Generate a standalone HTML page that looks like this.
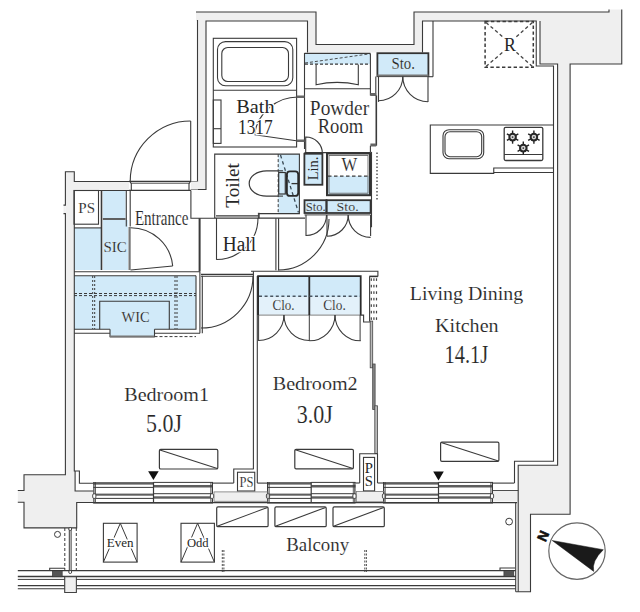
<!DOCTYPE html>
<html><head><meta charset="utf-8"><style>
html,body{margin:0;padding:0;background:#fff;width:640px;height:612px;overflow:hidden}
svg{display:block}
</style></head><body>
<svg width="640" height="612" viewBox="0 0 640 612" shape-rendering="geometricPrecision">
<polygon points="196,12 316,12 316,44.5 414,44.5 414,12 540,12 540,21 422.5,21 422.5,52.5 307.5,52.5 307.5,21 206,21 206,189.5 197.5,189.5 197.5,21 196,21" fill="#efefef" stroke="none" stroke-width="1.1" />
<polygon points="540,12 609,12 609,9.5 621.75,9.5 621.75,64 570.1,64 570.1,514.2 530.5,514.2 530.5,591.7 518.2,591.7 518.2,465.2 557.6,465.2 557.6,64 540,64" fill="#efefef" stroke="none" stroke-width="1.1" />
<polygon points="65.4,171.8 74.3,171.8 74.3,181.5 129,181.5 129,190.5 74.3,190.5 74.3,471 75.1,471 75.1,491 93.5,491 93.5,502.5 76.7,502.5 76.7,527.9 24,527.9 24,502.3 17.8,502.3 17.8,490.5 24,490.5 24,474.7 65.4,474.7" fill="#efefef" stroke="none" stroke-width="1.1" />
<polygon points="63.5,205.1 65.4,205.1 65.4,213.6 63.5,213.6" fill="#efefef" stroke="none" stroke-width="1.1" />
<rect x="214" y="491.9" width="54" height="9.4" fill="#efefef" stroke="none" stroke-width="1.1" />
<rect x="356.3" y="491.5" width="28" height="10.3" fill="#efefef" stroke="none" stroke-width="1.1" />
<rect x="493" y="490.5" width="25.2" height="11" fill="#efefef" stroke="none" stroke-width="1.1" />
<rect x="64.8" y="576.8" width="11.5" height="15.7" fill="#efefef" stroke="#3a3a3a" stroke-width="0.9" />
<rect x="102.8" y="190.5" width="22.8" height="28" fill="#d1eaf9" stroke="none" stroke-width="1.1" />
<rect x="102.8" y="220" width="25.4" height="50" fill="#d1eaf9" stroke="none" stroke-width="1.1" />
<rect x="74" y="228" width="27.5" height="42" fill="#d1eaf9" stroke="none" stroke-width="1.1" />
<rect x="74" y="276" width="122" height="53" fill="#d1eaf9" stroke="none" stroke-width="1.1" />
<rect x="110" y="329" width="44.5" height="7" fill="#d1eaf9" stroke="none" stroke-width="1.1" />
<rect x="377.4" y="53.2" width="51" height="23" fill="#d1eaf9" stroke="none" stroke-width="1.1" />
<rect x="305" y="53.7" width="65" height="10.5" fill="#d1eaf9" stroke="none" stroke-width="1.1" />
<rect x="304.4" y="153.75" width="18" height="31" fill="#d1eaf9" stroke="none" stroke-width="1.1" />
<rect x="327" y="176" width="43" height="19" fill="#d1eaf9" stroke="none" stroke-width="1.1" />
<rect x="278.2" y="154.1" width="21.6" height="59" fill="#d1eaf9" stroke="none" stroke-width="1.1" />
<rect x="304.5" y="200.2" width="66" height="13" fill="#d1eaf9" stroke="none" stroke-width="1.1" />
<rect x="258.1" y="276.1" width="102.6" height="39" fill="#d1eaf9" stroke="none" stroke-width="1.1" />
<polyline points="196,12 316,12 316,44.5 414,44.5 414,12 609,12 609,9.5" stroke="#3a3a3a" stroke-width="1.1" fill="none" />
<polyline points="621.75,9.5 621.75,64 570.1,64 570.1,514.2 530.5,514.2 530.5,591.7 515.7,591.7" stroke="#3a3a3a" stroke-width="1.1" fill="none" />
<polyline points="307.5,52.5 307.5,21 206,21 206,189.5 191,189.5" stroke="#3a3a3a" stroke-width="1.1" fill="none" />
<polyline points="422.5,52.5 422.5,21 536.25,21 536.25,66 553.5,66 553.5,461.2 514.5,461.2 514.5,483.1" stroke="#3a3a3a" stroke-width="1.1" fill="none" />
<polyline points="540,21 540,64 557.6,64 557.6,465.2 518.2,465.2 518.2,591.7" stroke="#3a3a3a" stroke-width="1.1" fill="none" />
<polyline points="197.5,20 197.5,181.5 74.3,181.5 74.3,171.8 65.4,171.8 65.4,205.1 63.5,205.1" stroke="#3a3a3a" stroke-width="1.1" fill="none" />
<polyline points="63.5,213.6 65.4,213.6 65.4,474.7 24,474.7 24,490.5 17.8,490.5" stroke="#3a3a3a" stroke-width="1.1" fill="none" />
<polyline points="17.8,502.3 24,502.3 24,527.9 76.7,527.9 76.7,502.5 93.5,502.5" stroke="#3a3a3a" stroke-width="1.1" fill="none" />
<polyline points="129,190.5 74.3,190.5 74.3,471 79.4,471 79.4,483.3 93.5,483.3" stroke="#3a3a3a" stroke-width="1.1" fill="none" />
<polyline points="75.1,471 75.1,491 93.5,491" stroke="#3a3a3a" stroke-width="1.1" fill="none" />
<line x1="515.7" y1="502.7" x2="515.7" y2="591.7" stroke="#3a3a3a" stroke-width="1.1" />
<rect x="191" y="181.5" width="7" height="8" fill="#efefef" stroke="none" stroke-width="1.1" />
<line x1="129" y1="181.2" x2="191" y2="181.2" stroke="#3a3a3a" stroke-width="1.1" />
<line x1="131" y1="183.2" x2="189.5" y2="183.2" stroke="#3a3a3a" stroke-width="0.9" />
<line x1="129" y1="190.4" x2="191" y2="190.4" stroke="#3a3a3a" stroke-width="1.1" />
<path d="M129.6,181.2 L131.3,183.6 L131.3,190.4" stroke="#3a3a3a" stroke-width="1.1" fill="none" />
<path d="M190.6,181.2 L189,183.6 L189,190.4" stroke="#3a3a3a" stroke-width="1.1" fill="none" />
<line x1="190.7" y1="121" x2="190.7" y2="181.5" stroke="#3a3a3a" stroke-width="1.1" />
<path d="M130.20,181.50 A60.5,60.5 0 0 1 190.70,121.00" stroke="#3a3a3a" stroke-width="1.1" fill="none" />
<polyline points="190.9,190.5 190.9,218.2 214.9,218.2" stroke="#3a3a3a" stroke-width="1.1" fill="none" />
<line x1="199.6" y1="218.2" x2="199.6" y2="271.5" stroke="#3a3a3a" stroke-width="2" />
<rect x="213.3" y="38.3" width="83.3" height="108.7" fill="none" stroke="#3a3a3a" stroke-width="1.1" />
<rect x="217.5" y="41.6" width="75.3" height="44.1" rx="8" fill="none" stroke="#3a3a3a" stroke-width="1.1"/>
<rect x="221.8" y="47.5" width="66.7" height="34" rx="6" fill="none" stroke="#3a3a3a" stroke-width="1.1"/>
<line x1="213.3" y1="90.2" x2="296.6" y2="90.2" stroke="#3a3a3a" stroke-width="1.1" />
<rect x="213.3" y="100" width="7.7" height="43.4" fill="none" stroke="#3a3a3a" stroke-width="1.1" />
<line x1="213.3" y1="128.7" x2="221" y2="128.7" stroke="#3a3a3a" stroke-width="1.1" />
<line x1="298" y1="141" x2="254.6" y2="134.8" stroke="#3a3a3a" stroke-width="1.1" />
<path d="M254.54,134.12 A44,44 0 0 1 298.00,97.00" stroke="#3a3a3a" stroke-width="1.1" fill="none" />
<line x1="304.5" y1="53" x2="304.5" y2="149" stroke="#3a3a3a" stroke-width="1.1" />
<rect x="296.6" y="95.5" width="7.9" height="2.5" fill="#666" stroke="none" stroke-width="1.1" />
<rect x="296.6" y="139.5" width="7.9" height="2.5" fill="#666" stroke="none" stroke-width="1.1" />
<line x1="304.5" y1="152.6" x2="370.4" y2="152.6" stroke="#3a3a3a" stroke-width="1.1" />
<line x1="305" y1="64.2" x2="370" y2="64.2" stroke="#3a3a3a" stroke-width="1.2" stroke-dasharray="3,2"/>
<line x1="305" y1="63" x2="370" y2="53.8" stroke="#3a3a3a" stroke-width="0.9" stroke-dasharray="3,2"/>
<path d="M316.1,64.5 L316.1,84.7 Q337,80 358.3,84.7 L358.3,64.5" stroke="#3a3a3a" stroke-width="1.1" fill="none" />
<line x1="304.5" y1="88.8" x2="370.4" y2="88.8" stroke="#3a3a3a" stroke-width="1.1" />
<line x1="304.5" y1="53.4" x2="370.4" y2="53.4" stroke="#3a3a3a" stroke-width="1.1" />
<line x1="370.4" y1="53.4" x2="370.4" y2="95.4" stroke="#3a3a3a" stroke-width="1.1" />
<polyline points="375.8,76.6 375.8,95.4" stroke="#3a3a3a" stroke-width="1.1" fill="none" />
<rect x="370.4" y="93" width="5.8" height="3" fill="#666" stroke="none" stroke-width="1.1" />
<line x1="376.3" y1="95.4" x2="376.3" y2="145.7" stroke="#3a3a3a" stroke-width="1.6" />
<rect x="370.4" y="143.5" width="5.8" height="3" fill="#666" stroke="none" stroke-width="1.1" />
<line x1="370.4" y1="145.7" x2="370.4" y2="152.6" stroke="#3a3a3a" stroke-width="1.1" />
<rect x="377.4" y="53.2" width="51" height="23" fill="none" stroke="#333" stroke-width="1.8" />
<line x1="377.4" y1="75.5" x2="428.5" y2="75.5" stroke="#777" stroke-width="2" />
<line x1="378.5" y1="76.5" x2="378.5" y2="101.9" stroke="#3a3a3a" stroke-width="1.1" />
<path d="M402.80,76.50 A24.3,24.3 0 0 1 378.50,100.80" stroke="#3a3a3a" stroke-width="1.1" fill="none" />
<line x1="428" y1="76.5" x2="428" y2="101.9" stroke="#3a3a3a" stroke-width="1.1" />
<path d="M428.00,101.70 A25.2,25.2 0 0 1 402.80,76.50" stroke="#3a3a3a" stroke-width="1.1" fill="none" />
<line x1="433" y1="21" x2="433" y2="76.7" stroke="#3a3a3a" stroke-width="1.1" />
<line x1="433" y1="76.7" x2="428.5" y2="76.7" stroke="#3a3a3a" stroke-width="1.1" />
<path d="M305.7,153.5 L305.7,137 A16.5,16.5 0 0 1 322.4,153.5" stroke="#3a3a3a" stroke-width="1.1" fill="none" />
<rect x="304.4" y="153.75" width="18" height="31" fill="none" stroke="#333" stroke-width="1.8" />
<rect x="327" y="153.5" width="43" height="41.7" fill="none" stroke="#333" stroke-width="2" />
<rect x="329" y="155.5" width="39" height="37.7" fill="none" stroke="#555" stroke-width="0.8" />
<line x1="328" y1="176.2" x2="369" y2="176.2" stroke="#3a3a3a" stroke-width="1.3" stroke-dasharray="3.5,2.5"/>
<line x1="377" y1="152.5" x2="377" y2="200" stroke="#3a3a3a" stroke-width="1.3" stroke-dasharray="1.5,2"/>
<polyline points="258.75,213.6 299.4,213.6 299.4,154.1 214.7,154.1 214.7,218.2" stroke="#3a3a3a" stroke-width="1.1" fill="none" />
<line x1="278.2" y1="154.1" x2="278.2" y2="213.1" stroke="#3a3a3a" stroke-width="1" stroke-dasharray="3,2"/>
<line x1="280.5" y1="155" x2="298.5" y2="212.5" stroke="#3a4a55" stroke-width="1.3" stroke-dasharray="3.5,3"/>
<path d="M279,170.8 L266.5,170.8 A17.3,12.65 0 0 0 266.5,196.1 L279,196.1" stroke="#3a3a3a" stroke-width="1.2" fill="none" />
<line x1="279" y1="170.8" x2="283" y2="170.8" stroke="#3a3a3a" stroke-width="1.1" />
<line x1="279" y1="196.1" x2="283" y2="196.1" stroke="#3a3a3a" stroke-width="1.1" />
<rect x="278.7" y="172.5" width="6.6" height="21.5" fill="none" stroke="#333" stroke-width="1.2" />
<rect x="286.9" y="171.4" width="11.3" height="24.5" rx="3" fill="none" stroke="#2a2a2a" stroke-width="1.8"/>
<line x1="291.5" y1="183.6" x2="298" y2="183.6" stroke="#333" stroke-width="1.3" />
<line x1="216" y1="215.9" x2="258.75" y2="215.9" stroke="#3a3a3a" stroke-width="1.1" />
<rect x="257.9" y="212.8" width="1.8" height="5.6" fill="#444" stroke="none" stroke-width="1.1" />
<line x1="216.5" y1="218" x2="216.5" y2="259.8" stroke="#3a3a3a" stroke-width="1.1" />
<path d="M258.00,218.00 A41.5,41.5 0 0 1 216.50,259.50" stroke="#3a3a3a" stroke-width="1.1" fill="none" />
<rect x="304.5" y="200.2" width="22" height="12.8" fill="none" stroke="#333" stroke-width="1.8" />
<rect x="326.5" y="200.2" width="44.1" height="12.8" fill="none" stroke="#333" stroke-width="1.8" />
<line x1="304.5" y1="214.9" x2="370.6" y2="214.9" stroke="#666" stroke-width="1.2" />
<line x1="306" y1="215" x2="306" y2="235.9" stroke="#3a3a3a" stroke-width="1.1" />
<path d="M326.50,215.00 A20.5,20.5 0 0 1 306.00,235.50" stroke="#3a3a3a" stroke-width="1.1" fill="none" />
<line x1="327" y1="215" x2="327" y2="236" stroke="#3a3a3a" stroke-width="1.1" />
<path d="M348.20,215.00 A21.2,21.2 0 0 1 327.00,236.20" stroke="#3a3a3a" stroke-width="1.1" fill="none" />
<line x1="370.6" y1="215" x2="370.6" y2="236" stroke="#3a3a3a" stroke-width="1.1" />
<path d="M370.60,237.40 A22.4,22.4 0 0 1 348.20,215.00" stroke="#3a3a3a" stroke-width="1.1" fill="none" />
<line x1="371.5" y1="151.9" x2="371.5" y2="227" stroke="#3a3a3a" stroke-width="1.1" />
<line x1="370.6" y1="227" x2="371.5" y2="227" stroke="#3a3a3a" stroke-width="1.1" />
<line x1="275.9" y1="218.2" x2="275.9" y2="270.3" stroke="#3a3a3a" stroke-width="1.1" />
<line x1="278.6" y1="218.2" x2="278.6" y2="270.3" stroke="#3a3a3a" stroke-width="1.1" />
<line x1="214.9" y1="218.2" x2="305" y2="218.2" stroke="#3a3a3a" stroke-width="1.3" />
<path d="M329.00,219.00 A51,51 0 0 1 278.00,270.00" stroke="#3a3a3a" stroke-width="1.1" fill="none" />
<rect x="74" y="190.5" width="24.5" height="33.7" fill="none" stroke="#3a3a3a" stroke-width="1.1" />
<line x1="74" y1="227.9" x2="101.5" y2="227.9" stroke="#3a3a3a" stroke-width="1.1" />
<line x1="101.5" y1="190.5" x2="101.5" y2="270" stroke="#3a3a3a" stroke-width="1.6" />
<line x1="102.8" y1="219" x2="125.6" y2="219" stroke="#3a3a3a" stroke-width="1.6" />
<line x1="126.3" y1="190.5" x2="126.3" y2="226.6" stroke="#3a3a3a" stroke-width="1.1" />
<line x1="130.2" y1="190.5" x2="130.2" y2="226.6" stroke="#3a3a3a" stroke-width="1.1" />
<line x1="129.6" y1="227" x2="129.6" y2="270" stroke="#777" stroke-width="2.2" />
<path d="M130.60,227.70 A42.3,42.3 0 0 1 172.71,265.95" stroke="#3a3a3a" stroke-width="1.1" fill="none" />
<line x1="130.6" y1="270" x2="172.7" y2="266" stroke="#3a3a3a" stroke-width="1.1" />
<line x1="74" y1="271.8" x2="200" y2="271.8" stroke="#3a3a3a" stroke-width="1.1" />
<line x1="74" y1="275.7" x2="196" y2="275.7" stroke="#3a3a3a" stroke-width="1.1" />
<polyline points="196,275.7 196,329.3 154.5,329.3" stroke="#3a3a3a" stroke-width="1.1" fill="none" />
<polyline points="110,329.3 74,329.3" stroke="#3a3a3a" stroke-width="1.1" fill="none" />
<line x1="74" y1="333.2" x2="110" y2="333.2" stroke="#3a3a3a" stroke-width="1.1" />
<line x1="154.5" y1="333.2" x2="200" y2="333.2" stroke="#3a3a3a" stroke-width="1.1" />
<line x1="199.9" y1="271.8" x2="199.9" y2="333.2" stroke="#3a3a3a" stroke-width="1.1" />
<line x1="202.3" y1="275.7" x2="202.3" y2="333.2" stroke="#3a3a3a" stroke-width="1.1" />
<polyline points="99.7,329.3 99.7,301.3 169.3,301.3 169.3,329.3" stroke="#3a3a3a" stroke-width="1.1" fill="none" />
<path d="M110,329.3 L110,336.6 L154.5,336.6 L154.5,329.3" stroke="#3a3a3a" stroke-width="1.1" fill="none" />
<line x1="110" y1="336.6" x2="154.5" y2="336.6" stroke="#777" stroke-width="2" />
<line x1="92.7" y1="276" x2="92.7" y2="329" stroke="#3a3a3a" stroke-width="1" stroke-dasharray="2,2"/>
<line x1="94.7" y1="276" x2="94.7" y2="329" stroke="#3a3a3a" stroke-width="1" stroke-dasharray="2,2"/>
<line x1="175" y1="276" x2="175" y2="329" stroke="#3a3a3a" stroke-width="1" stroke-dasharray="2,2"/>
<line x1="177" y1="276" x2="177" y2="329" stroke="#3a3a3a" stroke-width="1" stroke-dasharray="2,2"/>
<line x1="74" y1="293.5" x2="196" y2="293.5" stroke="#3a3a3a" stroke-width="1" stroke-dasharray="3,2"/>
<line x1="74" y1="295.6" x2="196" y2="295.6" stroke="#3a3a3a" stroke-width="1" stroke-dasharray="3,2"/>
<line x1="154.5" y1="336.6" x2="196" y2="336.6" stroke="#3a3a3a" stroke-width="1" stroke-dasharray="3,2"/>
<path d="M253.00,276.00 A52,52 0 0 1 201.00,328.00" stroke="#3a3a3a" stroke-width="1.1" fill="none" />
<line x1="201" y1="274.4" x2="253" y2="274.4" stroke="#3a3a3a" stroke-width="1.1" />
<line x1="201" y1="276.3" x2="253" y2="276.3" stroke="#3a3a3a" stroke-width="1.1" />
<polyline points="251,271.3 377.9,271.3 377.9,276.4" stroke="#3a3a3a" stroke-width="1.1" fill="none" />
<line x1="253.4" y1="271.2" x2="253.4" y2="469" stroke="#3a3a3a" stroke-width="1.1" />
<line x1="257.3" y1="276" x2="257.3" y2="483.1" stroke="#3a3a3a" stroke-width="1.1" />
<rect x="258.1" y="297" width="102.6" height="18" fill="#e3f1fa" stroke="none" stroke-width="1.1" />
<line x1="258.1" y1="315.1" x2="360.7" y2="315.1" stroke="#999" stroke-width="1.4" />
<polyline points="258.1,315.1 258.1,276.1 360.7,276.1 360.7,315.1" stroke="#2a2a2a" stroke-width="1.8" fill="none" />
<line x1="309.3" y1="276.1" x2="309.3" y2="315.1" stroke="#2a2a2a" stroke-width="1.8" />
<line x1="258.6" y1="315.1" x2="258.6" y2="341" stroke="#3a3a3a" stroke-width="1.0" />
<line x1="309.3" y1="315.1" x2="309.3" y2="341" stroke="#3a3a3a" stroke-width="1.0" />
<line x1="360.1" y1="315.1" x2="360.1" y2="341" stroke="#3a3a3a" stroke-width="1.0" />
<line x1="259" y1="296.3" x2="360" y2="296.3" stroke="#4a5560" stroke-width="1.6" stroke-dasharray="3,2.6"/>
<path d="M283.95,315.10 A25.349999999999994,25.349999999999994 0 0 1 258.60,340.45" stroke="#3a3a3a" stroke-width="1.1" fill="none" />
<path d="M309.30,340.45 A25.349999999999994,25.349999999999994 0 0 1 283.95,315.10" stroke="#3a3a3a" stroke-width="1.1" fill="none" />
<path d="M335.00,315.10 A25.69999999999999,25.69999999999999 0 0 1 309.30,340.80" stroke="#3a3a3a" stroke-width="1.1" fill="none" />
<path d="M360.70,340.80 A25.69999999999999,25.69999999999999 0 0 1 335.00,315.10" stroke="#3a3a3a" stroke-width="1.1" fill="none" />
<line x1="369.3" y1="276.4" x2="377.9" y2="276.4" stroke="#333" stroke-width="1.6" />
<line x1="369.6" y1="276.4" x2="369.6" y2="321.6" stroke="#3a3a3a" stroke-width="1.1" />
<rect x="370.7" y="278.3" width="1.2" height="2.6" fill="#444" stroke="none" stroke-width="1.1" />
<rect x="370.7" y="284.8" width="1.2" height="2.6" fill="#444" stroke="none" stroke-width="1.1" />
<rect x="370.7" y="291.3" width="1.2" height="2.6" fill="#444" stroke="none" stroke-width="1.1" />
<rect x="370.7" y="297.8" width="1.2" height="2.6" fill="#444" stroke="none" stroke-width="1.1" />
<rect x="370.7" y="304.3" width="1.2" height="2.6" fill="#444" stroke="none" stroke-width="1.1" />
<rect x="370.7" y="310.8" width="1.2" height="2.6" fill="#444" stroke="none" stroke-width="1.1" />
<rect x="370.7" y="317.3" width="1.2" height="2.6" fill="#444" stroke="none" stroke-width="1.1" />
<rect x="373.29999999999995" y="278.3" width="1.2" height="2.6" fill="#444" stroke="none" stroke-width="1.1" />
<rect x="373.29999999999995" y="284.8" width="1.2" height="2.6" fill="#444" stroke="none" stroke-width="1.1" />
<rect x="373.29999999999995" y="291.3" width="1.2" height="2.6" fill="#444" stroke="none" stroke-width="1.1" />
<rect x="373.29999999999995" y="297.8" width="1.2" height="2.6" fill="#444" stroke="none" stroke-width="1.1" />
<rect x="373.29999999999995" y="304.3" width="1.2" height="2.6" fill="#444" stroke="none" stroke-width="1.1" />
<rect x="373.29999999999995" y="310.8" width="1.2" height="2.6" fill="#444" stroke="none" stroke-width="1.1" />
<rect x="373.29999999999995" y="317.3" width="1.2" height="2.6" fill="#444" stroke="none" stroke-width="1.1" />
<rect x="375.9" y="278.3" width="1.2" height="2.6" fill="#444" stroke="none" stroke-width="1.1" />
<rect x="375.9" y="284.8" width="1.2" height="2.6" fill="#444" stroke="none" stroke-width="1.1" />
<rect x="375.9" y="291.3" width="1.2" height="2.6" fill="#444" stroke="none" stroke-width="1.1" />
<rect x="375.9" y="297.8" width="1.2" height="2.6" fill="#444" stroke="none" stroke-width="1.1" />
<rect x="375.9" y="304.3" width="1.2" height="2.6" fill="#444" stroke="none" stroke-width="1.1" />
<rect x="375.9" y="310.8" width="1.2" height="2.6" fill="#444" stroke="none" stroke-width="1.1" />
<rect x="375.9" y="317.3" width="1.2" height="2.6" fill="#444" stroke="none" stroke-width="1.1" />
<polyline points="360.1,315.1 363.6,315.1 363.6,322 370.2,322" stroke="#3a3a3a" stroke-width="1.1" fill="none" />
<rect x="370.2" y="321.1" width="2.5" height="46.7" fill="#bbb" stroke="#444" stroke-width="0.8" />
<rect x="372.7" y="364" width="2.4" height="45.5" fill="#888" stroke="#444" stroke-width="0.8" />
<rect x="374.8" y="405.8" width="2.6" height="47.8" fill="#bbb" stroke="#444" stroke-width="0.8" />
<polyline points="359.7,483 359.7,453.7 377.5,453.7 377.5,483" stroke="#3a3a3a" stroke-width="1.1" fill="none" />
<rect x="363.5" y="457.4" width="11.1" height="33.5" fill="none" stroke="#3a3a3a" stroke-width="1.1" />
<polyline points="233.75,483.1 233.75,469 253.75,469" stroke="#3a3a3a" stroke-width="1.1" fill="none" />
<rect x="237.5" y="472.25" width="17.25" height="18.75" fill="none" stroke="#3a3a3a" stroke-width="1.1" />
<line x1="74.5" y1="472" x2="74.5" y2="472" stroke="#3a3a3a" stroke-width="1.1" />
<polyline points="553.75,125 430.3,125 430.3,173.4 493.75,173.4 493.75,168 553.75,168" stroke="#3a3a3a" stroke-width="1.1" fill="none" />
<line x1="493.75" y1="172.5" x2="553.75" y2="172.5" stroke="#3a3a3a" stroke-width="1.1" />
<rect x="443" y="129.7" width="40.7" height="29" rx="6" fill="none" stroke="#3a3a3a" stroke-width="1.1"/>
<rect x="445" y="131.7" width="36.7" height="25" rx="5" fill="none" stroke="#3a3a3a" stroke-width="1.1"/>
<rect x="504.2" y="127.3" width="38.6" height="33.2" rx="1.5" fill="none" stroke="#3a3a3a" stroke-width="1.3"/>
<line x1="504.2" y1="154.5" x2="542.8" y2="154.5" stroke="#3a3a3a" stroke-width="1.2" />
<line x1="512.6" y1="140.1" x2="512.6" y2="143.7" stroke="#222" stroke-width="1.4" />
<line x1="510.0" y1="138.6" x2="506.88" y2="140.4" stroke="#222" stroke-width="1.4" />
<line x1="510.0" y1="135.6" x2="506.88" y2="133.8" stroke="#222" stroke-width="1.4" />
<line x1="512.6" y1="134.1" x2="512.6" y2="130.5" stroke="#222" stroke-width="1.4" />
<line x1="515.2" y1="135.6" x2="518.32" y2="133.8" stroke="#222" stroke-width="1.4" />
<line x1="515.2" y1="138.6" x2="518.32" y2="140.4" stroke="#222" stroke-width="1.4" />
<circle cx="512.6" cy="137.1" r="4.3" fill="#262626"/>
<circle cx="512.6" cy="137.1" r="2.3" fill="#d8d8d8"/>
<circle cx="512.6" cy="137.1" r="0.9" fill="#333"/>
<line x1="533.9" y1="140.1" x2="533.9" y2="143.7" stroke="#222" stroke-width="1.4" />
<line x1="531.3" y1="138.6" x2="528.18" y2="140.4" stroke="#222" stroke-width="1.4" />
<line x1="531.3" y1="135.6" x2="528.18" y2="133.8" stroke="#222" stroke-width="1.4" />
<line x1="533.9" y1="134.1" x2="533.9" y2="130.5" stroke="#222" stroke-width="1.4" />
<line x1="536.5" y1="135.6" x2="539.62" y2="133.8" stroke="#222" stroke-width="1.4" />
<line x1="536.5" y1="138.6" x2="539.62" y2="140.4" stroke="#222" stroke-width="1.4" />
<circle cx="533.9" cy="137.1" r="4.3" fill="#262626"/>
<circle cx="533.9" cy="137.1" r="2.3" fill="#d8d8d8"/>
<circle cx="533.9" cy="137.1" r="0.9" fill="#333"/>
<line x1="523.3" y1="151.1" x2="523.3" y2="154.7" stroke="#222" stroke-width="1.4" />
<line x1="520.7" y1="149.6" x2="517.58" y2="151.4" stroke="#222" stroke-width="1.4" />
<line x1="520.7" y1="146.6" x2="517.58" y2="144.8" stroke="#222" stroke-width="1.4" />
<line x1="523.3" y1="145.1" x2="523.3" y2="141.5" stroke="#222" stroke-width="1.4" />
<line x1="525.9" y1="146.6" x2="529.02" y2="144.8" stroke="#222" stroke-width="1.4" />
<line x1="525.9" y1="149.6" x2="529.02" y2="151.4" stroke="#222" stroke-width="1.4" />
<circle cx="523.3" cy="148.1" r="4.3" fill="#262626"/>
<circle cx="523.3" cy="148.1" r="2.3" fill="#d8d8d8"/>
<circle cx="523.3" cy="148.1" r="0.9" fill="#333"/>
<rect x="485.1" y="21.6" width="48.2" height="45.7" fill="none" stroke="#3a3a3a" stroke-width="1.5" stroke-dasharray="3.4,2.4"/>
<line x1="486" y1="22.5" x2="503" y2="37" stroke="#444" stroke-width="1.3" stroke-dasharray="3.4,2.6"/>
<line x1="532.4" y1="22.5" x2="516" y2="37" stroke="#444" stroke-width="1.3" stroke-dasharray="3.4,2.6"/>
<line x1="486" y1="66.4" x2="503" y2="52" stroke="#444" stroke-width="1.3" stroke-dasharray="3.4,2.6"/>
<line x1="532.4" y1="66.4" x2="516" y2="52" stroke="#444" stroke-width="1.3" stroke-dasharray="3.4,2.6"/>
<rect x="93.3" y="482.1" width="60.2" height="2.5" fill="#5e5e5e" stroke="none" stroke-width="1.1" />
<line x1="93.3" y1="487.4" x2="153.5" y2="487.4" stroke="#3a3a3a" stroke-width="1.0" />
<rect x="153.5" y="485.0" width="59.5" height="2.5" fill="#5e5e5e" stroke="none" stroke-width="1.1" />
<line x1="153.5" y1="482.4" x2="213" y2="482.4" stroke="#3a3a3a" stroke-width="1.0" />
<rect x="93.3" y="493.6" width="60.2" height="2.1" fill="#5e5e5e" stroke="none" stroke-width="1.1" />
<line x1="93.3" y1="498.4" x2="153.5" y2="498.4" stroke="#3a3a3a" stroke-width="1.0" />
<line x1="153.5" y1="493.7" x2="213" y2="493.7" stroke="#3a3a3a" stroke-width="1.0" />
<rect x="153.5" y="496.3" width="59.5" height="2.4" fill="#5e5e5e" stroke="none" stroke-width="1.1" />
<line x1="93.3" y1="502.9" x2="213" y2="502.9" stroke="#3a3a3a" stroke-width="1.1" />
<line x1="93.89999999999999" y1="482.1" x2="93.89999999999999" y2="502.9" stroke="#3a3a3a" stroke-width="1.2" />
<line x1="212.4" y1="482.1" x2="212.4" y2="502.9" stroke="#3a3a3a" stroke-width="1.2" />
<line x1="95.5" y1="482.1" x2="95.5" y2="502.9" stroke="#3a3a3a" stroke-width="0.8" />
<line x1="210.8" y1="482.1" x2="210.8" y2="502.9" stroke="#3a3a3a" stroke-width="0.8" />
<rect x="92.7" y="493.8" width="3.2" height="4.6" rx="1.2" fill="#fff" stroke="#3a3a3a" stroke-width="0.9"/>
<rect x="210.4" y="493.8" width="3.2" height="4.6" rx="1.2" fill="#fff" stroke="#3a3a3a" stroke-width="0.9"/>
<line x1="153.5" y1="482.1" x2="153.5" y2="502.9" stroke="#3a3a3a" stroke-width="1.2" />
<rect x="267" y="482.1" width="44.19999999999999" height="2.5" fill="#5e5e5e" stroke="none" stroke-width="1.1" />
<line x1="267" y1="487.4" x2="311.2" y2="487.4" stroke="#3a3a3a" stroke-width="1.0" />
<rect x="311.2" y="485.0" width="44.30000000000001" height="2.5" fill="#5e5e5e" stroke="none" stroke-width="1.1" />
<line x1="311.2" y1="482.4" x2="355.5" y2="482.4" stroke="#3a3a3a" stroke-width="1.0" />
<rect x="267" y="493.6" width="44.19999999999999" height="2.1" fill="#5e5e5e" stroke="none" stroke-width="1.1" />
<line x1="267" y1="498.4" x2="311.2" y2="498.4" stroke="#3a3a3a" stroke-width="1.0" />
<line x1="311.2" y1="493.7" x2="355.5" y2="493.7" stroke="#3a3a3a" stroke-width="1.0" />
<rect x="311.2" y="496.3" width="44.30000000000001" height="2.4" fill="#5e5e5e" stroke="none" stroke-width="1.1" />
<line x1="267" y1="502.9" x2="355.5" y2="502.9" stroke="#3a3a3a" stroke-width="1.1" />
<line x1="267.6" y1="482.1" x2="267.6" y2="502.9" stroke="#3a3a3a" stroke-width="1.2" />
<line x1="354.9" y1="482.1" x2="354.9" y2="502.9" stroke="#3a3a3a" stroke-width="1.2" />
<line x1="269.2" y1="482.1" x2="269.2" y2="502.9" stroke="#3a3a3a" stroke-width="0.8" />
<line x1="353.3" y1="482.1" x2="353.3" y2="502.9" stroke="#3a3a3a" stroke-width="0.8" />
<rect x="266.4" y="493.8" width="3.2" height="4.6" rx="1.2" fill="#fff" stroke="#3a3a3a" stroke-width="0.9"/>
<rect x="352.9" y="493.8" width="3.2" height="4.6" rx="1.2" fill="#fff" stroke="#3a3a3a" stroke-width="0.9"/>
<line x1="311.2" y1="482.1" x2="311.2" y2="502.9" stroke="#3a3a3a" stroke-width="1.2" />
<rect x="383" y="482.1" width="55.5" height="2.5" fill="#5e5e5e" stroke="none" stroke-width="1.1" />
<line x1="383" y1="487.4" x2="438.5" y2="487.4" stroke="#3a3a3a" stroke-width="1.0" />
<rect x="438.5" y="485.0" width="54.5" height="2.5" fill="#5e5e5e" stroke="none" stroke-width="1.1" />
<line x1="438.5" y1="482.4" x2="493" y2="482.4" stroke="#3a3a3a" stroke-width="1.0" />
<rect x="383" y="493.6" width="55.5" height="2.1" fill="#5e5e5e" stroke="none" stroke-width="1.1" />
<line x1="383" y1="498.4" x2="438.5" y2="498.4" stroke="#3a3a3a" stroke-width="1.0" />
<line x1="438.5" y1="493.7" x2="493" y2="493.7" stroke="#3a3a3a" stroke-width="1.0" />
<rect x="438.5" y="496.3" width="54.5" height="2.4" fill="#5e5e5e" stroke="none" stroke-width="1.1" />
<line x1="383" y1="502.9" x2="493" y2="502.9" stroke="#3a3a3a" stroke-width="1.1" />
<line x1="383.6" y1="482.1" x2="383.6" y2="502.9" stroke="#3a3a3a" stroke-width="1.2" />
<line x1="492.4" y1="482.1" x2="492.4" y2="502.9" stroke="#3a3a3a" stroke-width="1.2" />
<line x1="385.2" y1="482.1" x2="385.2" y2="502.9" stroke="#3a3a3a" stroke-width="0.8" />
<line x1="490.8" y1="482.1" x2="490.8" y2="502.9" stroke="#3a3a3a" stroke-width="0.8" />
<rect x="382.4" y="493.8" width="3.2" height="4.6" rx="1.2" fill="#fff" stroke="#3a3a3a" stroke-width="0.9"/>
<rect x="490.4" y="493.8" width="3.2" height="4.6" rx="1.2" fill="#fff" stroke="#3a3a3a" stroke-width="0.9"/>
<line x1="438.5" y1="482.1" x2="438.5" y2="502.9" stroke="#3a3a3a" stroke-width="1.2" />
<polygon points="148.1,471.2 158.7,471.2 153.4,480" fill="#111" stroke="none" stroke-width="1.1" />
<polygon points="433.2,471.4 443.8,471.4 438.5,480.5" fill="#111" stroke="none" stroke-width="1.1" />
<line x1="213" y1="483.1" x2="233.75" y2="483.1" stroke="#3a3a3a" stroke-width="1.1" />
<polyline points="257.3,483.1 267,483.1" stroke="#3a3a3a" stroke-width="1.1" fill="none" />
<polyline points="355.5,483 359.7,483" stroke="#3a3a3a" stroke-width="1.1" fill="none" />
<polyline points="377.5,483 383,483" stroke="#3a3a3a" stroke-width="1.1" fill="none" />
<line x1="493" y1="483.1" x2="514.4" y2="483.1" stroke="#3a3a3a" stroke-width="1.1" />
<rect x="214" y="491.9" width="54" height="9.4" fill="none" stroke="#777" stroke-width="0.8" />
<rect x="356.3" y="491.5" width="28" height="10.3" fill="none" stroke="#777" stroke-width="0.8" />
<line x1="493" y1="490.5" x2="518.2" y2="490.5" stroke="#3a3a3a" stroke-width="0.9" />
<line x1="92.8" y1="502.6" x2="517.1" y2="502.6" stroke="#3a3a3a" stroke-width="1.1" />
<rect x="159.4" y="449.4" width="58.4" height="19.6" rx="1.3" fill="none" stroke="#3a3a3a" stroke-width="1.2"/>
<line x1="159.9" y1="449.9" x2="217.3" y2="468.5" stroke="#3a3a3a" stroke-width="1.1" />
<rect x="294.8" y="449.3" width="58.6" height="19.6" rx="1.3" fill="none" stroke="#3a3a3a" stroke-width="1.2"/>
<line x1="295.3" y1="449.8" x2="352.9" y2="468.4" stroke="#3a3a3a" stroke-width="1.1" />
<rect x="440.6" y="442.1" width="58.3" height="19.3" rx="1.3" fill="none" stroke="#3a3a3a" stroke-width="1.2"/>
<line x1="441.1" y1="442.6" x2="498.4" y2="460.9" stroke="#3a3a3a" stroke-width="1.1" />
<rect x="216.7" y="506.9" width="51.4" height="19.8" rx="1.3" fill="none" stroke="#3a3a3a" stroke-width="1.2"/>
<line x1="217.2" y1="526.2" x2="267.6" y2="507.4" stroke="#3a3a3a" stroke-width="1.1" />
<rect x="274.9" y="506.9" width="51.3" height="19.8" rx="1.3" fill="none" stroke="#3a3a3a" stroke-width="1.2"/>
<line x1="275.4" y1="526.2" x2="325.7" y2="507.4" stroke="#3a3a3a" stroke-width="1.1" />
<rect x="333" y="506.9" width="51.3" height="19.8" rx="1.3" fill="none" stroke="#3a3a3a" stroke-width="1.2"/>
<line x1="333.5" y1="526.2" x2="383.8" y2="507.4" stroke="#3a3a3a" stroke-width="1.1" />
<line x1="17.8" y1="570.6" x2="515.7" y2="570.6" stroke="#3a3a3a" stroke-width="1.1" />
<line x1="17.8" y1="576.5" x2="515.7" y2="576.5" stroke="#3a3a3a" stroke-width="1.3" />
<line x1="17.8" y1="579.4" x2="515.7" y2="579.4" stroke="#3a3a3a" stroke-width="1.0" />
<line x1="17.8" y1="585.6" x2="515.7" y2="585.6" stroke="#3a3a3a" stroke-width="1.1" />
<line x1="17.8" y1="588.75" x2="515.7" y2="588.75" stroke="#3a3a3a" stroke-width="1.1" />
<polyline points="49.7,570.4 49.7,568.2 65,568.2" stroke="#3a3a3a" stroke-width="1.1" fill="none" />
<rect x="52.3" y="570.8" width="9.9" height="6" fill="#555" stroke="#333" stroke-width="0.6" />
<rect x="503.9" y="570.7" width="9.9" height="5.8" fill="#555" stroke="#333" stroke-width="0.6" />
<polyline points="500,570.4 500,568 515,568" stroke="#3a3a3a" stroke-width="1.1" fill="none" />
<rect x="64.8" y="576.8" width="11.5" height="15.7" fill="#efefef" stroke="#3a3a3a" stroke-width="0.9" />
<line x1="64.8" y1="528" x2="64.8" y2="573" stroke="#3a3a3a" stroke-width="1" stroke-dasharray="3,2"/>
<line x1="76.3" y1="528" x2="76.3" y2="573" stroke="#3a3a3a" stroke-width="1" stroke-dasharray="3,2"/>
<line x1="69.3" y1="528" x2="69.3" y2="572" stroke="#3a3a3a" stroke-width="1" />
<line x1="71.1" y1="528" x2="71.1" y2="572" stroke="#3a3a3a" stroke-width="1" />
<circle cx="70.2" cy="529" r="1.5" fill="#fff" stroke="#3a3a3a" stroke-width="0.9"/>
<circle cx="70.2" cy="572" r="1.5" fill="#fff" stroke="#3a3a3a" stroke-width="0.9"/>
<circle cx="57.5" cy="534.4" r="3" fill="none" stroke="#3a3a3a" stroke-width="1"/>
<circle cx="509.1" cy="521.6" r="3.4" fill="none" stroke="#3a3a3a" stroke-width="1"/>
<line x1="222.29999999999998" y1="550" x2="222.29999999999998" y2="572" stroke="#3a3a3a" stroke-width="0.9" stroke-dasharray="2,1.5"/>
<line x1="223.9" y1="550" x2="223.9" y2="572" stroke="#3a3a3a" stroke-width="0.9" stroke-dasharray="2,1.5"/>
<line x1="364.8" y1="550" x2="364.8" y2="572" stroke="#3a3a3a" stroke-width="0.9" stroke-dasharray="2,1.5"/>
<line x1="366.40000000000003" y1="550" x2="366.40000000000003" y2="572" stroke="#3a3a3a" stroke-width="0.9" stroke-dasharray="2,1.5"/>
<rect x="103.4" y="523.3" width="33.69999999999999" height="38.8" fill="none" stroke="#3a3a3a" stroke-width="1.1" />
<polyline points="103.4,562.1 120.3,523.3 137.1,562.1" stroke="#3a3a3a" stroke-width="1" fill="none" />
<rect x="181" y="523.3" width="33.400000000000006" height="38.8" fill="none" stroke="#3a3a3a" stroke-width="1.1" />
<polyline points="181,562.1 197.6,523.3 214.4,562.1" stroke="#3a3a3a" stroke-width="1" fill="none" />
<circle cx="577" cy="551.1" r="28.2" fill="#fff" stroke="#666" stroke-width="1.2"/>
<path d="M552.2,540.5 L603.3,549.7 Q591.3,561.2 593.7,571.4 Z" stroke="#1a1a1a" stroke-width="0.5" fill="#1a1a1a" />
<text x="236.37" y="112.7" font-family="Liberation Serif" font-size="19" fill="#262626" text-anchor="start" font-weight="normal" textLength="38.21" lengthAdjust="spacingAndGlyphs" id="t_bath" stroke="#fff" stroke-width="2.6" paint-order="stroke" stroke-linejoin="round">Bath</text>
<text x="238.0" y="133.6" font-family="Liberation Serif" font-size="20.3" fill="#262626" text-anchor="start" font-weight="normal" textLength="34.7" lengthAdjust="spacingAndGlyphs" id="t_1317" stroke="#fff" stroke-width="2.6" paint-order="stroke" stroke-linejoin="round">1317</text>
<text x="309.85" y="115.2" font-family="Liberation Serif" font-size="20" fill="#262626" text-anchor="start" font-weight="normal" textLength="59.25" lengthAdjust="spacingAndGlyphs" id="t_powder" stroke="#fff" stroke-width="0.12">Powder</text>
<text x="317.7" y="132.7" font-family="Liberation Serif" font-size="20" fill="#262626" text-anchor="start" font-weight="normal" textLength="45.5" lengthAdjust="spacingAndGlyphs" id="t_room" stroke="#fff" stroke-width="0.12">Room</text>
<text x="391.39" y="68.5" font-family="Liberation Serif" font-size="15.7" fill="#262626" text-anchor="start" font-weight="normal" textLength="23.53" lengthAdjust="spacingAndGlyphs" id="t_sto1" stroke="#fff" stroke-width="0.12">Sto.</text>
<text x="504.01" y="51.3" font-family="Liberation Serif" font-size="19.4" fill="#262626" text-anchor="start" font-weight="normal" textLength="11.88" lengthAdjust="spacingAndGlyphs" id="t_R" stroke="#fff" stroke-width="2.6" paint-order="stroke" stroke-linejoin="round">R</text>
<text x="341.54" y="171.25" font-family="Liberation Serif" font-size="18" fill="#262626" text-anchor="start" font-weight="normal" textLength="15.72" lengthAdjust="spacingAndGlyphs" id="t_W" stroke="#fff" stroke-width="0.12">W</text>
<text x="305.73" y="211.4" font-family="Liberation Serif" font-size="13.5" fill="#262626" text-anchor="start" font-weight="normal" textLength="20.04" lengthAdjust="spacingAndGlyphs" id="t_sto2" stroke="#fff" stroke-width="0.12">Sto.</text>
<text x="336.63" y="211.4" font-family="Liberation Serif" font-size="13.5" fill="#262626" text-anchor="start" font-weight="normal" textLength="22.04" lengthAdjust="spacingAndGlyphs" id="t_sto3" stroke="#fff" stroke-width="0.12">Sto.</text>
<text x="78.29" y="212.5" font-family="Liberation Serif" font-size="15.3" fill="#262626" text-anchor="start" font-weight="normal" textLength="16.71" lengthAdjust="spacingAndGlyphs" id="t_ps1" stroke="#fff" stroke-width="0.12">PS</text>
<text x="134.89" y="224.9" font-family="Liberation Serif" font-size="20.5" fill="#262626" text-anchor="start" font-weight="normal" textLength="53.52" lengthAdjust="spacingAndGlyphs" id="t_entr" stroke="#fff" stroke-width="0.12">Entrance</text>
<text x="103.5" y="252.1" font-family="Liberation Serif" font-size="14.8" fill="#262626" text-anchor="start" font-weight="normal" textLength="23.29" lengthAdjust="spacingAndGlyphs" id="t_sic" stroke="#fff" stroke-width="0.12">SIC</text>
<text x="222.79" y="250.8" font-family="Liberation Serif" font-size="20.5" fill="#262626" text-anchor="start" font-weight="normal" textLength="33.22" lengthAdjust="spacingAndGlyphs" id="t_hall" stroke="#fff" stroke-width="2.6" paint-order="stroke" stroke-linejoin="round">Hall</text>
<text x="121.6" y="321.9" font-family="Liberation Serif" font-size="15" fill="#262626" text-anchor="start" font-weight="normal" textLength="28.1" lengthAdjust="spacingAndGlyphs" id="t_wic" stroke="#fff" stroke-width="0.12">WIC</text>
<text x="272.47" y="310.2" font-family="Liberation Serif" font-size="14" fill="#262626" text-anchor="start" font-weight="normal" textLength="22.11" lengthAdjust="spacingAndGlyphs" id="t_clo1" stroke="#fff" stroke-width="0.12">Clo.</text>
<text x="323.22" y="310.2" font-family="Liberation Serif" font-size="14" fill="#262626" text-anchor="start" font-weight="normal" textLength="22.56" lengthAdjust="spacingAndGlyphs" id="t_clo2" stroke="#fff" stroke-width="0.12">Clo.</text>
<text x="409.81" y="299.8" font-family="Liberation Serif" font-size="19.6" fill="#262626" text-anchor="start" font-weight="normal" textLength="113.48" lengthAdjust="spacingAndGlyphs" id="t_ld" stroke="#fff" stroke-width="0.12">Living Dining</text>
<text x="435.11" y="331.5" font-family="Liberation Serif" font-size="19.4" fill="#262626" text-anchor="start" font-weight="normal" textLength="63.44" lengthAdjust="spacingAndGlyphs" id="t_kit" stroke="#fff" stroke-width="0.12">Kitchen</text>
<text x="444.59" y="363.4" font-family="Liberation Serif" font-size="25.5" fill="#262626" text-anchor="start" font-weight="normal" textLength="43.62" lengthAdjust="spacingAndGlyphs" id="t_141" stroke="#fff" stroke-width="0.12">14.1J</text>
<text x="124.32" y="400.6" font-family="Liberation Serif" font-size="19" fill="#262626" text-anchor="start" font-weight="normal" textLength="84.66" lengthAdjust="spacingAndGlyphs" id="t_bed1" stroke="#fff" stroke-width="0.12">Bedroom1</text>
<text x="146.09" y="432.1" font-family="Liberation Serif" font-size="25.3" fill="#262626" text-anchor="start" font-weight="normal" textLength="35.91" lengthAdjust="spacingAndGlyphs" id="t_50" stroke="#fff" stroke-width="0.12">5.0J</text>
<text x="272.73" y="390.2" font-family="Liberation Serif" font-size="18.6" fill="#262626" text-anchor="start" font-weight="normal" textLength="84.94" lengthAdjust="spacingAndGlyphs" id="t_bed2" stroke="#fff" stroke-width="0.12">Bedroom2</text>
<text x="296.69" y="422.8" font-family="Liberation Serif" font-size="25.5" fill="#262626" text-anchor="start" font-weight="normal" textLength="36.12" lengthAdjust="spacingAndGlyphs" id="t_30" stroke="#fff" stroke-width="0.12">3.0J</text>
<text x="239.45" y="486.9" font-family="Liberation Serif" font-size="15" fill="#262626" text-anchor="start" font-weight="normal" textLength="13.95" lengthAdjust="spacingAndGlyphs" id="t_ps2" stroke="#fff" stroke-width="0.12">PS</text>
<text x="106.83" y="546.5" font-family="Liberation Serif" font-size="13.3" fill="#262626" text-anchor="start" font-weight="normal" textLength="26.83" lengthAdjust="spacingAndGlyphs" id="t_even" stroke="#fff" stroke-width="3.2" paint-order="stroke" stroke-linejoin="round">Even</text>
<text x="186.93" y="546.5" font-family="Liberation Serif" font-size="13.3" fill="#262626" text-anchor="start" font-weight="normal" textLength="21.73" lengthAdjust="spacingAndGlyphs" id="t_odd" stroke="#fff" stroke-width="3.2" paint-order="stroke" stroke-linejoin="round">Odd</text>
<text x="286.21" y="551.4" font-family="Liberation Serif" font-size="19.4" fill="#262626" text-anchor="start" font-weight="normal" textLength="62.98" lengthAdjust="spacingAndGlyphs" id="t_balc" stroke="#fff" stroke-width="0.12">Balcony</text>
<text x="0" y="0" transform="translate(238.9,207.7) rotate(-90)" font-family="Liberation Serif" font-size="19.8" fill="#262626" textLength="44.49" lengthAdjust="spacingAndGlyphs" id="t_toilet">Toilet</text>
<text x="0" y="0" transform="translate(317.5,180.28) rotate(-90)" font-family="Liberation Serif" font-size="14" fill="#262626" textLength="23.66" lengthAdjust="spacingAndGlyphs" id="t_lin">Lin.</text>
<text x="368.8" y="472.6" font-family="Liberation Serif" font-size="14.7" fill="#262626" text-anchor="middle" font-weight="normal" >P</text>
<text x="368.8" y="486.3" font-family="Liberation Serif" font-size="14.7" fill="#262626" text-anchor="middle" font-weight="normal" >S</text>
<text x="0" y="4.9" transform="translate(543,535.9) rotate(-66.4)" font-family="Liberation Sans" font-weight="bold" font-size="13.8" fill="#111" stroke="#111" stroke-width="0.6" text-anchor="middle">N</text>
</svg>
</body></html>
